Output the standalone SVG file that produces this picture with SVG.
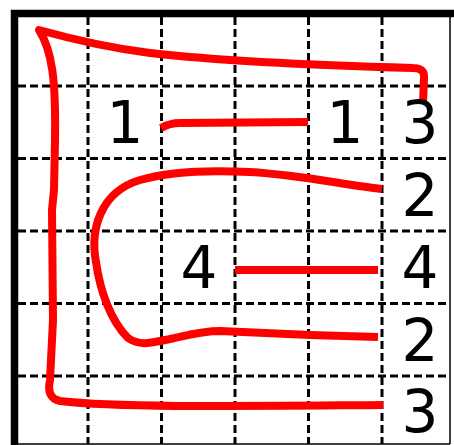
<svg xmlns="http://www.w3.org/2000/svg" width="454" height="445" viewBox="0 0 454 445">
<style>
.grid{stroke:#000;stroke-width:3;stroke-dasharray:8 4;fill:none}
.border{stroke:#000;fill:none}
.link{stroke:#ff0000;stroke-width:8;fill:none;stroke-linecap:butt;stroke-linejoin:round}
.num{font-family:"DejaVu Sans","Liberation Sans",sans-serif;font-size:58px;fill:#000;text-anchor:middle}
</style>
<rect x="0" y="0" width="454" height="445" fill="#fff"/>
<g id="grid">
<path class="grid" d="M88 17V444M161.5 17V444M235 17V444M308.5 17V444M382 17V444"/>
<path class="grid" d="M18 86H450M18 158.5H450M18 231H450M18 303.5H450M18 376H450"/>
<path class="border" stroke-width="1.5" d="M450 17V444M18 444H450"/>
<path class="border" stroke-width="7.5" d="M14.5 445V13.5H454"/>
</g>
<g id="connectors">
<path id="path-3" class="link" d="M423 103L424 78Q425 68 413 68C340 66 230 62 150 53C110 48 75 40 39 30C52 50 56 80 55 140L54 190L52 210L53 320L50 380Q46 398 60 401C120 408 250 406 383 405"/>
<path id="path-1" class="link" d="M161 128Q170 123 180 123L308 122"/>
<path id="path-2" class="link" d="M382 189C340 184 300 175 250 172C210 170 170 171 140 180C100 192 90 230 96 262C100 290 110 320 128 338C140 346 150 343 165 340C185 336 200 331 220 331L310 335L378 337"/>
<path id="path-4" class="link" d="M235 270H378"/>
</g>
<g id="n-r1c1"><text class="num" x="125" y="143">1</text></g>
<g id="n-r1c4"><text class="num" x="345" y="143">1</text></g>
<g id="n-r1c5"><text class="num" x="420" y="143">3</text></g>
<g id="n-r2c5"><text class="num" x="420" y="216">2</text></g>
<g id="n-r3c2"><text class="num" x="199" y="288">4</text></g>
<g id="n-r3c5"><text class="num" x="420" y="288">4</text></g>
<g id="n-r4c5"><text class="num" x="420" y="361">2</text></g>
<g id="n-r5c5"><text class="num" x="420" y="432">3</text></g>
</svg>
